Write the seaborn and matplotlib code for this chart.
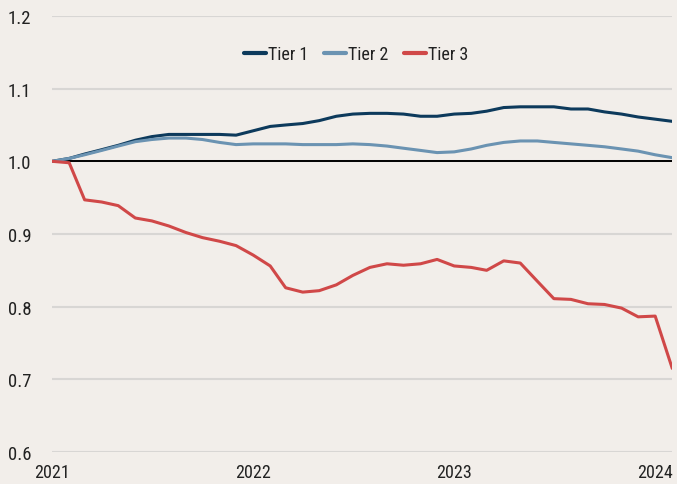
import numpy as np
import pandas as pd
import matplotlib.pyplot as plt
import matplotlib.dates as mdates
import seaborn as sns

# monthly index values, Jan 2021 - Feb 2024
months = pd.date_range("2021-01-01", "2024-02-01", freq="MS")

tier1 = [1.000, 1.004, 1.010, 1.016, 1.022, 1.029, 1.034, 1.037, 1.037, 1.037, 1.037, 1.036,
         1.042, 1.048, 1.050, 1.052, 1.056, 1.062, 1.065, 1.066, 1.066, 1.065, 1.062, 1.062,
         1.065, 1.066, 1.069, 1.074, 1.075, 1.075, 1.075, 1.072, 1.072, 1.068, 1.065, 1.061,
         1.058, 1.055]
tier2 = [1.000, 1.004, 1.009, 1.015, 1.021, 1.027, 1.030, 1.032, 1.032, 1.030, 1.026, 1.023,
         1.024, 1.024, 1.024, 1.023, 1.023, 1.023, 1.024, 1.023, 1.021, 1.018, 1.015, 1.012,
         1.013, 1.017, 1.022, 1.026, 1.028, 1.028, 1.026, 1.024, 1.022, 1.020, 1.017, 1.014,
         1.009, 1.005]
tier3 = [1.000, 0.998, 0.947, 0.944, 0.939, 0.922, 0.918, 0.911, 0.902, 0.895, 0.890, 0.884,
         0.871, 0.856, 0.826, 0.820, 0.822, 0.830, 0.843, 0.854, 0.859, 0.857, 0.859, 0.865,
         0.856, 0.854, 0.850, 0.863, 0.860, 0.835, 0.811, 0.810, 0.804, 0.803, 0.798, 0.786,
         0.787, 0.715]

df = pd.DataFrame({"date": months, "Tier 1": tier1, "Tier 2": tier2, "Tier 3": tier3})
df = df.melt(id_vars="date", var_name="tier", value_name="value")

bg = "#f2eeea"
sns.set_style("white")
plt.rcParams["font.family"] = ["Roboto Condensed", "Roboto", "DejaVu Sans"]

fig = plt.figure(figsize=(6.77, 4.85), dpi=100, facecolor=bg)
ax = fig.add_axes([0.077, 0.066, 0.916, 0.899], facecolor=bg)

sns.lineplot(data=df, x="date", y="value", hue="tier", ax=ax, linewidth=2.2,
             palette={"Tier 1": "#0d3a5c", "Tier 2": "#6b93b2", "Tier 3": "#d04848"})

ax.axhline(1.0, color="black", linewidth=1.4, zorder=1.5)
ax.set_ylim(0.6, 1.2)
ax.set_yticks(np.arange(0.6, 1.21, 0.1))
ax.set_yticklabels([f"{v:.1f}" for v in np.arange(0.6, 1.21, 0.1)], fontsize=13.5, color="#222222")
ax.set_xlim(months[0], months[-1])
ax.xaxis.set_major_locator(mdates.YearLocator())
ax.xaxis.set_major_formatter(mdates.DateFormatter("%Y"))
ax.tick_params(axis="x", length=5, width=1, color="#333333", labelsize=13, labelcolor="#222222", pad=3)
ax.tick_params(axis="y", length=0, pad=15)
ax.grid(axis="y", color="#d8d6d4", linewidth=1.5)
ax.set_axisbelow(True)
for s in ax.spines.values():
    s.set_visible(False)
ax.set_xlabel("")
ax.set_ylabel("")

leg = ax.legend(loc="center", bbox_to_anchor=(0.49, 0.913), ncol=3, frameon=False,
                fontsize=13, handlelength=1.2, handletextpad=0.1, columnspacing=0.9)
for line in leg.get_lines():
    line.set_linewidth(3)
for t in leg.get_texts():
    t.set_color("#222222")

fig.savefig("out.png", dpi=100, facecolor=bg)
